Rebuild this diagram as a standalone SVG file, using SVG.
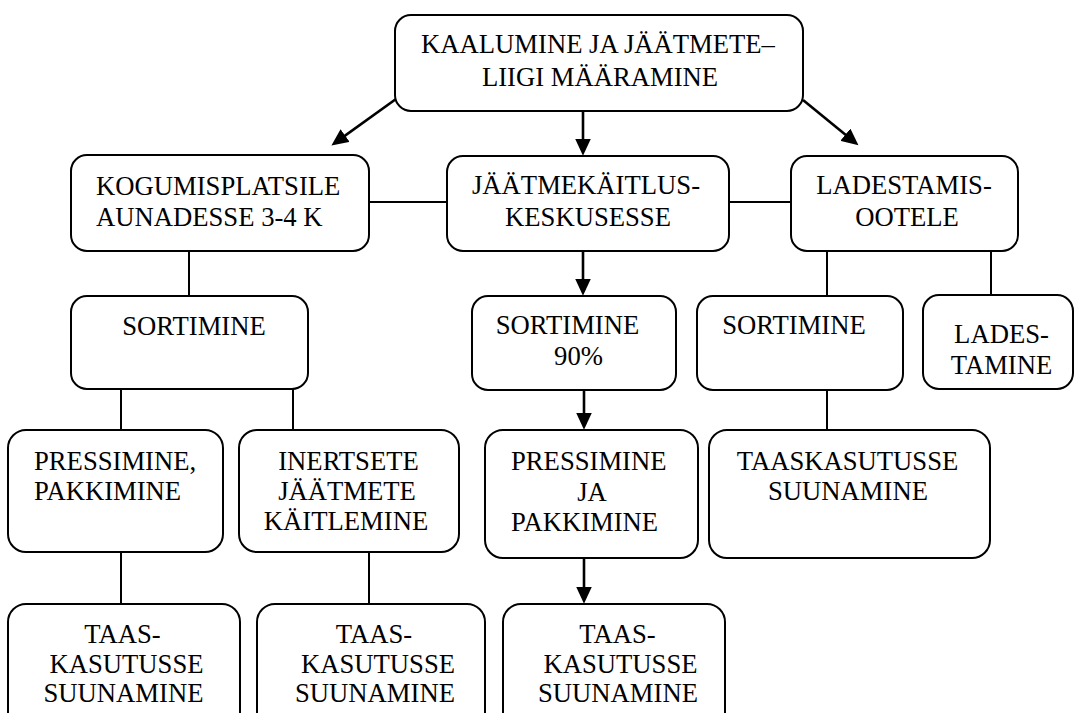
<svg xmlns="http://www.w3.org/2000/svg" width="1075" height="713" viewBox="0 0 1075 713">
<style>
.box{fill:#fff;stroke:#000;stroke-width:2}
text{font-size:26.67px;fill:#000}
.c{text-anchor:middle}
.ln{stroke:#000;stroke-width:2;fill:none}
.ar{stroke:#000;stroke-width:2.6;fill:none}
</style>
<defs>
<marker id="ah" markerUnits="userSpaceOnUse" markerWidth="18" markerHeight="16" viewBox="0 0 16 14" refX="10" refY="7" orient="auto">
<path d="M0,0 L15,7 L0,14 Z" fill="#000"/>
</marker>
</defs>
<rect width="1075" height="713" fill="#fff"/>
<g id="connectors">
<line class="ar" x1="396" y1="99" x2="336" y2="142.1" marker-end="url(#ah)"/>
<line class="ar" x1="583" y1="111" x2="583" y2="150" marker-end="url(#ah)"/>
<line class="ar" x1="803" y1="100" x2="854.1" y2="141.8" marker-end="url(#ah)"/>
<line class="ar" x1="583" y1="251" x2="583" y2="290" marker-end="url(#ah)"/>
<line class="ar" x1="584" y1="390" x2="584" y2="424" marker-end="url(#ah)"/>
<line class="ar" x1="584" y1="558" x2="584" y2="598" marker-end="url(#ah)"/>
<line class="ln" x1="369" y1="202" x2="447" y2="202"/>
<line class="ln" x1="729" y1="202" x2="791" y2="202"/>
<line class="ln" x1="189" y1="251" x2="189" y2="296"/>
<line class="ln" x1="827" y1="251" x2="827" y2="296"/>
<line class="ln" x1="991" y1="251" x2="991" y2="295"/>
<line class="ln" x1="121" y1="389" x2="121" y2="430"/>
<line class="ln" x1="293" y1="389" x2="293" y2="430"/>
<line class="ln" x1="827" y1="390" x2="827" y2="430"/>
<line class="ln" x1="121" y1="552" x2="121" y2="604"/>
<line class="ln" x1="369" y1="552" x2="369" y2="604"/>
</g>
<g font-family="Liberation Serif, Tinos, Times New Roman, DejaVu Serif, serif">
<g id="n1">
<rect class="box" x="395" y="15" width="408" height="96" rx="16"/>
<text class="c" x="598" y="53">KAALUMINE JA JÄÄTMETE–</text>
<text class="c" x="600" y="86">LIIGI MÄÄRAMINE</text>
</g>
<g id="n2">
<rect class="box" x="71" y="155" width="298" height="96" rx="16"/>
<text x="96" y="195">KOGUMISPLATSILE</text>
<text x="96" y="226">AUNADESSE 3-4 K</text>
</g>
<g id="n3">
<rect class="box" x="447" y="156" width="282" height="95" rx="16"/>
<text class="c" x="586" y="194">JÄÄTMEKÄITLUS-</text>
<text class="c" x="588" y="226">KESKUSESSE</text>
</g>
<g id="n4">
<rect class="box" x="791" y="156" width="227" height="95" rx="16"/>
<text class="c" x="904" y="194">LADESTAMIS-</text>
<text class="c" x="907" y="226">OOTELE</text>
</g>
<g id="n5">
<rect class="box" x="71" y="296" width="237" height="93" rx="16"/>
<text class="c" x="194" y="335">SORTIMINE</text>
</g>
<g id="n6">
<rect class="box" x="472" y="296" width="204" height="94" rx="16"/>
<text class="c" x="567.5" y="334">SORTIMINE</text>
<text class="c" x="578.5" y="365">90%</text>
</g>
<g id="n7">
<rect class="box" x="697" y="296" width="206" height="94" rx="16"/>
<text class="c" x="794" y="334">SORTIMINE</text>
</g>
<g id="n8">
<rect class="box" x="923" y="295" width="150" height="94" rx="16"/>
<text class="c" x="1001.5" y="343">LADES-</text>
<text class="c" x="1001.5" y="374">TAMINE</text>
</g>
<g id="n9">
<rect class="box" x="8" y="430" width="215" height="122" rx="18"/>
<text x="34" y="470">PRESSIMINE,</text>
<text x="34" y="500">PAKKIMINE</text>
</g>
<g id="n10">
<rect class="box" x="239" y="430" width="220" height="122" rx="18"/>
<text class="c" x="348.5" y="470">INERTSETE</text>
<text class="c" x="347" y="500">JÄÄTMETE</text>
<text class="c" x="346" y="530">KÄITLEMINE</text>
</g>
<g id="n11">
<rect class="box" x="485" y="430" width="213" height="128" rx="18"/>
<text x="511" y="470">PRESSIMINE</text>
<text class="c" x="592" y="501">JA</text>
<text x="511" y="531">PAKKIMINE</text>
</g>
<g id="n12">
<rect class="box" x="709" y="430" width="281" height="128" rx="18"/>
<text class="c" x="847.5" y="470">TAASKASUTUSSE</text>
<text class="c" x="848" y="500">SUUNAMINE</text>
</g>
<g id="n13">
<rect class="box" x="8" y="604" width="232" height="130" rx="18"/>
<text class="c" x="122.5" y="643">TAAS-</text>
<text class="c" x="126.5" y="673">KASUTUSSE</text>
<text class="c" x="123.5" y="702">SUUNAMINE</text>
</g>
<g id="n14">
<rect class="box" x="257" y="604" width="228" height="130" rx="18"/>
<text class="c" x="374" y="643">TAAS-</text>
<text class="c" x="378" y="673">KASUTUSSE</text>
<text class="c" x="375" y="702">SUUNAMINE</text>
</g>
<g id="n15">
<rect class="box" x="503" y="604" width="222" height="130" rx="18"/>
<text class="c" x="617.5" y="643">TAAS-</text>
<text class="c" x="620.5" y="673">KASUTUSSE</text>
<text class="c" x="618" y="702">SUUNAMINE</text>
</g>
</g>
</svg>
